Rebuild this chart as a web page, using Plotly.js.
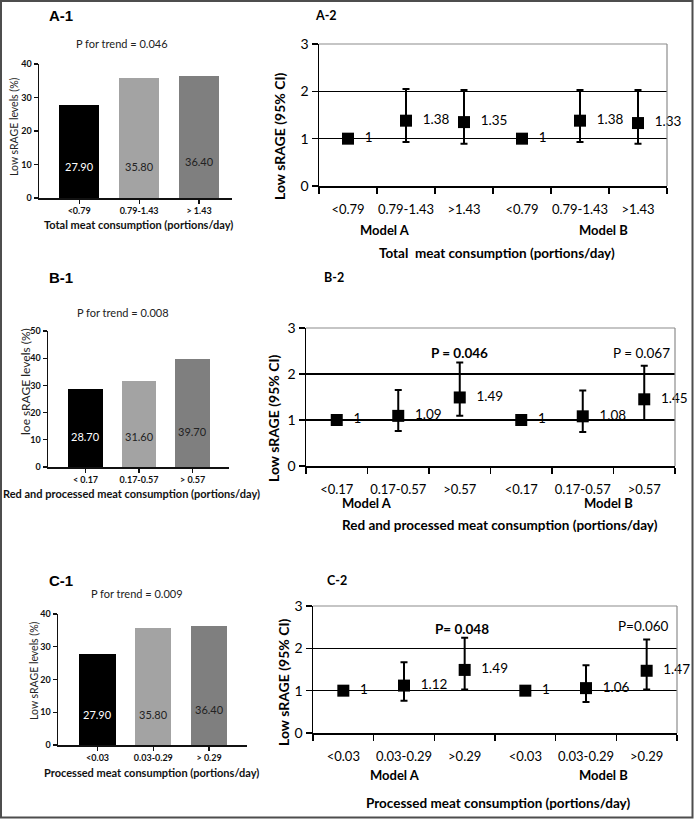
<!DOCTYPE html>
<html>
<head>
<meta charset="utf-8">
<script src="https://cdn.plot.ly/plotly-3.0.1.min.js"></script>
<style>
  html, body { margin: 0; padding: 0; background: #ffffff; }
  #fig { width: 694px; height: 819px; }
</style>
</head>
<body>
<div id="fig"></div>
<script>
//---------------------------------------data - start-----------------------------------------------
// left panels: % with low sRAGE by tertile
var a1_cats = ['<0.79', '0.79-1.43', '> 1.43'];
var a1_vals = [27.90, 35.80, 36.40];
var b1_cats = ['< 0.17', '0.17-0.57', '> 0.57'];
var b1_vals = [28.70, 31.60, 39.70];
var c1_cats = ['<0.03', '0.03-0.29', '> 0.29'];
var c1_vals = [27.90, 35.80, 36.40];

// right panels: OR (95% CI), Model A then Model B
var a2_cats = ['<0.79', '0.79-1.43', '>1.43', '<0.79', '0.79-1.43', '>1.43'];
var a2_or = [1, 1.38, 1.35, 1, 1.38, 1.33];
var a2_lo = [1, 0.93, 0.89, 1, 0.93, 0.89];
var a2_hi = [1, 2.05, 2.03, 1, 2.03, 2.03];

var b2_cats = ['<0.17', '0.17-0.57', '>0.57', '<0.17', '0.17-0.57', '>0.57'];
var b2_or = [1, 1.09, 1.49, 1, 1.08, 1.45];
var b2_lo = [1, 0.76, 1.09, 1, 0.74, 1.00];
var b2_hi = [1, 1.65, 2.25, 1, 1.64, 2.18];

var c2_cats = ['<0.03', '0.03-0.29', '>0.29', '<0.03', '0.03-0.29', '>0.29'];
var c2_or = [1, 1.12, 1.49, 1, 1.06, 1.47];
var c2_lo = [1, 0.76, 1.03, 1, 0.73, 1.03];
var c2_hi = [1, 1.67, 2.25, 1, 1.60, 2.21];
//---------------------------------------data - end-----------------------------------------------

var W = 694, H = 819;
function px(x) { return x / W; }
function py(y) { return 1 - y / H; }

var bar_colors = ['#000000', '#a3a3a3', '#7f7f7f'];
var bar_text_colors = ['#ffffff', '#222222', '#222222'];
var font_prism = 'Lato, "Open Sans", sans-serif';
var font_excel = 'Lato, "Open Sans", sans-serif';

//---------------------------------------bar panels-----------------------------------------------
function barTrace(cats, vals, xa, ya, width) {
  return {
    type: 'bar', x: cats, y: vals, xaxis: xa, yaxis: ya,
    width: width,
    marker: { color: bar_colors, line: { width: 0 } },
    hoverinfo: 'skip', showlegend: false
  };
}

function barXaxis(dom, range, fsize) {
  return {
    domain: dom, range: range, type: 'category',
    showline: true, linecolor: '#111', linewidth: 1.5,
    ticks: 'outside', ticklen: 4, tickwidth: 1.2, tickcolor: '#111',
    tickfont: { family: font_prism, size: fsize, color: '#111', weight: 'bold' },
    showgrid: false, zeroline: false, fixedrange: true
  };
}

function barYaxis(dom, range, dtick, fsize, anchor) {
  return {
    domain: dom, range: range, anchor: anchor,
    tickmode: 'linear', tick0: 0, dtick: dtick,
    showline: true, linecolor: '#111', linewidth: 1.5,
    ticks: 'outside', ticklen: 4, tickwidth: 1.2, tickcolor: '#111',
    tickfont: { family: font_prism, size: fsize, color: '#111', weight: 'bold' },
    showgrid: false, zeroline: false, fixedrange: true
  };
}

// value labels inside the bars, near the base
function barLabels(cats, vals, xa, ya, fsize) {
  return cats.map(function (c, i) {
    return {
      x: c, y: 0, xref: xa, yref: ya, yanchor: 'middle',
      yshift: (i === 2 ? 36 : 31),
      text: vals[i].toFixed(2), showarrow: false,
      font: { family: font_prism, size: fsize, color: bar_text_colors[i] }
    };
  });
}

//---------------------------------------forest panels-----------------------------------------------
function forestTrace(or, lo, hi, xa, ya) {
  var idx = or.map(function (v, i) { return i; });
  return {
    type: 'scatter', mode: 'markers',
    x: idx, y: or, xaxis: xa, yaxis: ya,
    marker: { symbol: 'square', size: 12, color: '#000' },
    error_y: {
      type: 'data', symmetric: false,
      array: hi.map(function (h, i) { return h - or[i]; }),
      arrayminus: lo.map(function (l, i) { return or[i] - l; }),
      color: '#000', thickness: 2, width: 3.5
    },
    cliponaxis: false, hoverinfo: 'skip', showlegend: false
  };
}

// value labels: invisible wide marker pushes the text a bit away from the square
function forestLabels(or, xa, ya) {
  return {
    type: 'scatter', mode: 'markers+text',
    x: or.map(function (v, i) { return i; }), y: or, xaxis: xa, yaxis: ya,
    text: or.map(function (v) { return String(v); }),
    textposition: 'middle right',
    textfont: { family: font_excel, size: 13.5, color: '#000' },
    marker: { size: 25, opacity: 0 },
    cliponaxis: false, hoverinfo: 'skip', showlegend: false
  };
}

function forestXaxis(dom, cats, anchor) {
  return {
    domain: dom, anchor: anchor, range: [-0.5, 5.5],
    tickmode: 'array', tickvals: cats.map(function (c, i) { return i; }), ticktext: cats,
    ticks: 'outside', ticklen: 11, tickcolor: 'rgba(0,0,0,0)',
    minor: { tickmode: 'linear', tick0: -0.5, dtick: 1, ticks: 'outside', ticklen: 6, tickwidth: 1.5, tickcolor: '#000', showgrid: false },
    showline: true, linecolor: '#000', linewidth: 1.5,
    tickfont: { family: font_excel, size: 13, color: '#000' },
    showgrid: false, zeroline: false, fixedrange: true
  };
}

function forestYaxis(dom, anchor) {
  return {
    domain: dom, anchor: anchor, range: [0, 3],
    tickmode: 'array', tickvals: [0, 1, 2, 3],
    ticks: 'outside', ticklen: 6, tickwidth: 1.5, tickcolor: '#000',
    showline: true, linecolor: '#000', linewidth: 1.5,
    showgrid: true, gridcolor: '#000', gridwidth: 1.4,
    tickfont: { family: font_excel, size: 14, color: '#000' },
    zeroline: false, fixedrange: true
  };
}

function boxEdges(xa, ya) {
  var g = { color: '#8c8c8c', width: 1.2 };
  return [
    { type: 'line', xref: xa + ' domain', yref: ya + ' domain', x0: 0, x1: 1, y0: 1, y1: 1, line: g, layer: 'above' },
    { type: 'line', xref: xa + ' domain', yref: ya + ' domain', x0: 1, x1: 1, y0: 0, y1: 1, line: g, layer: 'above' }
  ];
}

//---------------------------------------annotations-----------------------------------------------
function note(text, x, y, size, opts) {
  opts = opts || {};
  return {
    text: text, xref: 'paper', yref: 'paper', x: px(x), y: py(y),
    xanchor: opts.xanchor || 'center', yanchor: 'middle',
    textangle: opts.angle || 0, showarrow: false,
    font: { family: opts.family || font_excel, size: size, color: opts.color || '#000', weight: opts.bold ? 'bold' : 'normal' }
  };
}

var data = [
  barTrace(a1_cats, a1_vals, 'x', 'y', 0.67),
  forestTrace(a2_or, a2_lo, a2_hi, 'x2', 'y2'),
  forestLabels(a2_or, 'x2', 'y2'),
  barTrace(b1_cats, b1_vals, 'x3', 'y3', 0.65),
  forestTrace(b2_or, b2_lo, b2_hi, 'x4', 'y4'),
  forestLabels(b2_or, 'x4', 'y4'),
  barTrace(c1_cats, c1_vals, 'x5', 'y5', 0.65),
  forestTrace(c2_or, c2_lo, c2_hi, 'x6', 'y6'),
  forestLabels(c2_or, 'x6', 'y6')
];

var annotations = []
  .concat(barLabels(a1_cats, a1_vals, 'x', 'y', 11))
  .concat(barLabels(b1_cats, b1_vals, 'x3', 'y3', 11))
  .concat(barLabels(c1_cats, c1_vals, 'x5', 'y5', 11))
  .concat([
    // panel letters
    note('A-1', 47, 15, 15, { xanchor: 'left', bold: true, family: '"Liberation Sans", Arial, sans-serif' }),
    note('B-1', 47, 277, 15, { xanchor: 'left', bold: true, family: '"Liberation Sans", Arial, sans-serif' }),
    note('C-1', 47, 580, 15, { xanchor: 'left', bold: true, family: '"Liberation Sans", Arial, sans-serif' }),
    note('A-2', 313, 15, 12.5, { xanchor: 'left', bold: true }),
    note('B-2', 322, 277, 12.5, { xanchor: 'left', bold: true }),
    note('C-2', 325, 580, 12.5, { xanchor: 'left', bold: true }),
    // P for trend
    note('P for trend = 0.046', 122, 43, 11, { family: font_prism, color: '#222' }),
    note('P for trend = 0.008', 123, 312, 11, { family: font_prism, color: '#222' }),
    note('P for trend = 0.009', 137, 593, 11, { family: font_prism, color: '#222' }),
    // left y titles
    note('Low sRAGE levels (%)', 14, 127, 10.5, { angle: -90, family: font_prism, color: '#222' }),
    note('loe sRAGE levels (%)', 25, 382, 12, { angle: -90, family: font_prism, color: '#222' }),
    note('Low sRAGE levels (%)', 34, 671, 10.5, { angle: -90, family: font_prism, color: '#222' }),
    // left x titles
    note('Total meat consumption (portions/day)', 138, 224, 11, { family: font_prism, color: '#111', bold: true }),
    note('Red and processed meat consumption (portions/day)', 131, 493, 11, { family: font_prism, color: '#111', bold: true }),
    note('Processed meat consumption (portions/day)', 151, 772, 11, { family: font_prism, color: '#111', bold: true }),
    // right y titles
    note('Low sRAGE (95% CI)', 280, 136, 14, { angle: -90, bold: true }),
    note('Low sRAGE (95% CI)', 274, 418, 14, { angle: -90, bold: true }),
    note('Low sRAGE (95% CI)', 283, 682, 14, { angle: -90, bold: true }),
    // model labels
    note('Model A', 385, 230, 13, { bold: true }),
    note('Model B', 603, 230, 13, { bold: true }),
    note('Model A', 367, 503, 13, { bold: true }),
    note('Model B', 608, 503, 13, { bold: true }),
    note('Model A', 395, 775, 13, { bold: true }),
    note('Model B', 603, 775, 13, { bold: true }),
    // right x titles
    note('Total  meat consumption (portions/day)', 497, 253, 13.5, { bold: true }),
    note('Red and processed meat consumption (portions/day)', 500, 525, 13.5, { bold: true }),
    note('Processed meat consumption (portions/day)', 498, 803, 13.5, { bold: true }),
    // p values above the top tertile
    { text: 'P = 0.046', xref: 'x4', yref: 'y4', x: 2, y: 2.46, showarrow: false, yanchor: 'middle',
      font: { family: font_excel, size: 13.5, color: '#000', weight: 'bold' } },
    { text: 'P = 0.067', xref: 'x4', yref: 'y4', x: 4.95, y: 2.46, showarrow: false, yanchor: 'middle',
      font: { family: font_excel, size: 13.5, color: '#000' } },
    { text: 'P= 0.048', xref: 'x6', yref: 'y6', x: 1.95, y: 2.46, showarrow: false, yanchor: 'middle',
      font: { family: font_excel, size: 13.5, color: '#000', weight: 'bold' } },
    { text: 'P=0.060', xref: 'x6', yref: 'y6', x: 4.95, y: 2.53, showarrow: false, yanchor: 'middle',
      font: { family: font_excel, size: 13.5, color: '#000' } }
  ]);

var shapes = []
  .concat(boxEdges('x2', 'y2'))
  .concat(boxEdges('x4', 'y4'))
  .concat(boxEdges('x6', 'y6'))
  .concat([
    // outer frame
    { type: 'rect', xref: 'paper', yref: 'paper', x0: px(1), x1: px(692.5), y0: py(1), y1: py(817.5),
      line: { color: '#4d4d4d', width: 2 }, layer: 'above' }
  ]);

var layout = {
  width: W, height: H,
  margin: { t: 0, r: 0, l: 0, b: 0 },
  paper_bgcolor: '#ffffff', plot_bgcolor: 'rgba(0,0,0,0)',
  showlegend: false,
  bargap: 0,
  xaxis: barXaxis([px(39), px(232)], [-0.67, 2.55], 9),
  yaxis: barYaxis([py(198), py(64)], [0, 40], 10, 9, 'x'),
  xaxis2: forestXaxis([px(319), px(667)], a2_cats, 'y2'),
  yaxis2: forestYaxis([py(186), py(44)], 'x2'),
  xaxis3: Object.assign(barXaxis([px(48), px(229)], [-0.70, 2.68], 9), { anchor: 'y3' }),
  yaxis3: barYaxis([py(467), py(331)], [0, 50], 10, 9, 'x3'),
  xaxis4: forestXaxis([px(306), px(675)], b2_cats, 'y4'),
  yaxis4: forestYaxis([py(466), py(328)], 'x4'),
  xaxis5: Object.assign(barXaxis([px(58), px(247)], [-0.71, 2.68], 9), { anchor: 'y5' }),
  yaxis5: barYaxis([py(745), py(614)], [0, 40], 10, 9, 'x5'),
  xaxis6: forestXaxis([px(313), px(677)], c2_cats, 'y6'),
  yaxis6: forestYaxis([py(733), py(606)], 'x6'),
  annotations: annotations,
  shapes: shapes
};

var config = { displayModeBar: false, staticPlot: true };

Plotly.newPlot('fig', data, layout, config);
</script>
</body>
</html>
